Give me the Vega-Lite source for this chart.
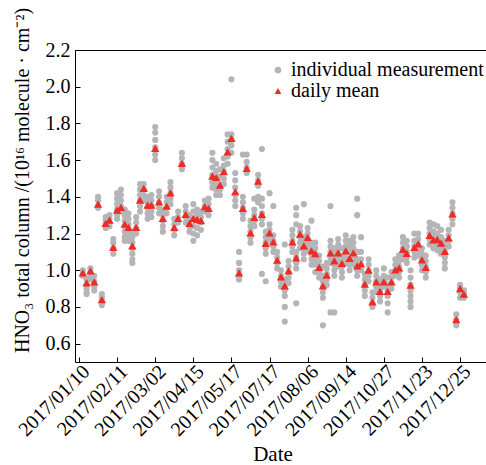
{
  "$schema": "https://vega.github.io/schema/vega-lite/v6.json",
  "width": 411,
  "height": 312,
  "autosize": {"type": "none"},
  "padding": {"left": 75, "top": 50, "right": 0, "bottom": 103},
  "background": "white",
  "config": {
    "view": {"stroke": null},
    "font": "Liberation Serif",
    "axis": {
      "grid": false,
      "domainColor": "black",
      "tickColor": "black",
      "labelColor": "black",
      "titleColor": "black",
      "labelFont": "Liberation Serif",
      "titleFont": "Liberation Serif",
      "titleFontWeight": "normal",
      "labelFontSize": 20,
      "titleFontSize": 20,
      "labelOverlap": false,
      "labelFlush": false
    },
    "legend": {"labelFont": "Liberation Serif", "labelFontSize": 20, "labelColor": "black", "labelLimit": 0}
  },
  "datasets": {
    "individual": [
      {"obs":1,"v":1.00},{"obs":1,"v":0.98},{"obs":1,"v":0.97},
      {"obs":2,"v":0.95},{"obs":2,"v":0.92},{"obs":2,"v":0.90},{"obs":2,"v":0.88},{"obs":2,"v":0.87},
      {"obs":3,"v":1.01},{"obs":3,"v":0.99},{"obs":3,"v":0.97},{"obs":3,"v":0.95},
      {"obs":4,"v":0.97},{"obs":4,"v":0.94},{"obs":4,"v":0.91},{"obs":4,"v":0.89},
      {"obs":5,"v":1.40},{"obs":5,"v":1.38},{"obs":5,"v":1.35},{"obs":5,"v":1.34},
      {"obs":6,"v":0.87},{"obs":6,"v":0.85},{"obs":6,"v":0.83},{"obs":6,"v":0.81},
      {"obs":7,"v":1.29},{"obs":7,"v":1.27},{"obs":7,"v":1.25},{"obs":7,"v":1.23},
      {"obs":8,"v":1.30},{"obs":8,"v":1.28},{"obs":8,"v":1.26},{"obs":8,"v":1.24},
      {"obs":9,"v":1.17},{"obs":9,"v":1.15},{"obs":9,"v":1.12},{"obs":9,"v":1.09},
      {"obs":10,"v":1.42},{"obs":10,"v":1.39},{"obs":10,"v":1.36},{"obs":10,"v":1.33},{"obs":10,"v":1.30},{"obs":10,"v":1.28},
      {"obs":11,"v":1.44},{"obs":11,"v":1.41},{"obs":11,"v":1.38},{"obs":11,"v":1.35},{"obs":11,"v":1.32},
      {"obs":12,"v":1.33},{"obs":12,"v":1.30},{"obs":12,"v":1.27},{"obs":12,"v":1.24},{"obs":12,"v":1.21},{"obs":12,"v":1.18},{"obs":12,"v":1.16},
      {"obs":13,"v":1.31},{"obs":13,"v":1.28},{"obs":13,"v":1.25},{"obs":13,"v":1.22},{"obs":13,"v":1.19},{"obs":13,"v":1.16},
      {"obs":14,"v":1.21},{"obs":14,"v":1.18},{"obs":14,"v":1.15},{"obs":14,"v":1.12},{"obs":14,"v":1.09},{"obs":14,"v":1.06},{"obs":14,"v":1.04},
      {"obs":15,"v":1.29},{"obs":15,"v":1.26},{"obs":15,"v":1.23},{"obs":15,"v":1.20},
      {"obs":16,"v":1.47},{"obs":16,"v":1.44},{"obs":16,"v":1.41},{"obs":16,"v":1.38},{"obs":16,"v":1.35},{"obs":16,"v":1.32},
      {"obs":17,"v":1.47},{"obs":17,"v":1.44},{"obs":17,"v":1.41},{"obs":17,"v":1.38},
      {"obs":18,"v":1.40},{"obs":18,"v":1.37},{"obs":18,"v":1.34},{"obs":18,"v":1.31},{"obs":18,"v":1.28},
      {"obs":19,"v":1.41},{"obs":19,"v":1.38},{"obs":19,"v":1.35},{"obs":19,"v":1.32},{"obs":19,"v":1.29},
      {"obs":20,"v":1.78},{"obs":20,"v":1.75},{"obs":20,"v":1.71},{"obs":20,"v":1.67},{"obs":20,"v":1.63},{"obs":20,"v":1.60},
      {"obs":21,"v":1.43},{"obs":21,"v":1.40},{"obs":21,"v":1.37},{"obs":21,"v":1.34},{"obs":21,"v":1.31},
      {"obs":22,"v":1.33},{"obs":22,"v":1.30},{"obs":22,"v":1.27},{"obs":22,"v":1.24},{"obs":22,"v":1.21},
      {"obs":23,"v":1.40},{"obs":23,"v":1.37},{"obs":23,"v":1.34},{"obs":23,"v":1.31},
      {"obs":24,"v":1.48},{"obs":24,"v":1.45},{"obs":24,"v":1.42},{"obs":24,"v":1.39},{"obs":24,"v":1.36},
      {"obs":25,"v":1.28},{"obs":25,"v":1.25},{"obs":25,"v":1.22},{"obs":25,"v":1.19},
      {"obs":26,"v":1.32},{"obs":26,"v":1.29},{"obs":26,"v":1.26},
      {"obs":27,"v":1.64},{"obs":27,"v":1.61},{"obs":27,"v":1.58},{"obs":27,"v":1.55},
      {"obs":28,"v":1.35},{"obs":28,"v":1.32},{"obs":28,"v":1.29},{"obs":28,"v":1.26},
      {"obs":29,"v":1.30},{"obs":29,"v":1.27},{"obs":29,"v":1.24},{"obs":29,"v":1.21},
      {"obs":30,"v":1.36},{"obs":30,"v":1.32},{"obs":30,"v":1.28},{"obs":30,"v":1.24},{"obs":30,"v":1.20},{"obs":30,"v":1.16},
      {"obs":31,"v":1.33},{"obs":31,"v":1.30},{"obs":31,"v":1.27},{"obs":31,"v":1.23},{"obs":31,"v":1.19},
      {"obs":32,"v":1.32},{"obs":32,"v":1.29},{"obs":32,"v":1.26},{"obs":32,"v":1.22},
      {"obs":33,"v":1.38},{"obs":33,"v":1.35},{"obs":33,"v":1.32},
      {"obs":34,"v":1.39},{"obs":34,"v":1.36},{"obs":34,"v":1.33},{"obs":34,"v":1.30},
      {"obs":35,"v":1.64},{"obs":35,"v":1.60},{"obs":35,"v":1.56},{"obs":35,"v":1.52},{"obs":35,"v":1.48},{"obs":35,"v":1.45},
      {"obs":36,"v":1.58},{"obs":36,"v":1.54},{"obs":36,"v":1.50},{"obs":36,"v":1.47},{"obs":36,"v":1.44},{"obs":36,"v":1.41},
      {"obs":37,"v":1.55},{"obs":37,"v":1.51},{"obs":37,"v":1.47},{"obs":37,"v":1.44},{"obs":37,"v":1.41},
      {"obs":38,"v":1.61},{"obs":38,"v":1.57},{"obs":38,"v":1.54},{"obs":38,"v":1.50},{"obs":38,"v":1.47},
      {"obs":39,"v":1.74},{"obs":39,"v":1.70},{"obs":39,"v":1.66},{"obs":39,"v":1.62},{"obs":39,"v":1.58},
      {"obs":40,"v":2.04},{"obs":40,"v":1.74},{"obs":40,"v":1.71},{"obs":40,"v":1.68},{"obs":40,"v":1.64},
      {"obs":41,"v":1.53},{"obs":41,"v":1.49},{"obs":41,"v":1.45},{"obs":41,"v":1.41},{"obs":41,"v":1.38},{"obs":41,"v":1.35},
      {"obs":42,"v":1.10},{"obs":42,"v":1.04},{"obs":42,"v":1.00},{"obs":42,"v":0.97},{"obs":42,"v":0.95},
      {"obs":43,"v":1.63},{"obs":43,"v":1.40},{"obs":43,"v":1.37},{"obs":43,"v":1.34},{"obs":43,"v":1.31},{"obs":43,"v":1.28},
      {"obs":44,"v":1.63},{"obs":44,"v":1.59},{"obs":44,"v":1.56},{"obs":44,"v":1.53},
      {"obs":45,"v":1.27},{"obs":45,"v":1.24},{"obs":45,"v":1.21},{"obs":45,"v":1.18},{"obs":45,"v":1.15},
      {"obs":46,"v":1.39},{"obs":46,"v":1.33},{"obs":46,"v":1.30},{"obs":46,"v":1.27},{"obs":46,"v":1.24},
      {"obs":47,"v":1.52},{"obs":47,"v":1.49},{"obs":47,"v":1.46},{"obs":47,"v":1.40},{"obs":47,"v":1.37},
      {"obs":48,"v":1.66},{"obs":48,"v":1.39},{"obs":48,"v":1.35},{"obs":48,"v":1.31},{"obs":48,"v":1.28},{"obs":48,"v":1.25},{"obs":48,"v":0.98},
      {"obs":49,"v":1.21},{"obs":49,"v":1.18},{"obs":49,"v":1.15},{"obs":49,"v":1.12},{"obs":49,"v":1.09},{"obs":49,"v":0.94},
      {"obs":50,"v":1.42},{"obs":50,"v":1.25},{"obs":50,"v":1.22},{"obs":50,"v":1.19},{"obs":50,"v":1.16},
      {"obs":51,"v":1.35},{"obs":51,"v":1.19},{"obs":51,"v":1.16},{"obs":51,"v":1.13},{"obs":51,"v":1.10},
      {"obs":52,"v":1.10},{"obs":52,"v":1.07},{"obs":52,"v":1.04},{"obs":52,"v":1.01},
      {"obs":53,"v":1.00},{"obs":53,"v":0.97},{"obs":53,"v":0.94},{"obs":53,"v":0.91},
      {"obs":54,"v":1.14},{"obs":54,"v":0.95},{"obs":54,"v":0.92},{"obs":54,"v":0.89},{"obs":54,"v":0.86},{"obs":54,"v":0.80},{"obs":54,"v":0.72},
      {"obs":55,"v":1.05},{"obs":55,"v":1.02},{"obs":55,"v":0.99},{"obs":55,"v":0.96},{"obs":55,"v":0.93},
      {"obs":56,"v":1.22},{"obs":56,"v":1.19},{"obs":56,"v":1.16},{"obs":56,"v":1.13},{"obs":56,"v":1.10},
      {"obs":57,"v":1.34},{"obs":57,"v":1.30},{"obs":57,"v":1.25},{"obs":57,"v":1.10},{"obs":57,"v":1.07},{"obs":57,"v":1.04},{"obs":57,"v":1.01},{"obs":57,"v":0.82},
      {"obs":58,"v":1.24},{"obs":58,"v":1.21},{"obs":58,"v":1.18},{"obs":58,"v":1.15},{"obs":58,"v":1.12},
      {"obs":59,"v":1.36},{"obs":59,"v":1.18},{"obs":59,"v":1.15},{"obs":59,"v":1.12},{"obs":59,"v":1.09},{"obs":59,"v":1.06},
      {"obs":60,"v":1.23},{"obs":60,"v":1.20},{"obs":60,"v":1.17},{"obs":60,"v":1.14},{"obs":60,"v":1.11},
      {"obs":61,"v":1.27},{"obs":61,"v":1.15},{"obs":61,"v":1.12},{"obs":61,"v":1.09},{"obs":61,"v":1.06},{"obs":61,"v":1.03},
      {"obs":62,"v":1.15},{"obs":62,"v":1.12},{"obs":62,"v":1.09},{"obs":62,"v":1.06},{"obs":62,"v":1.03},{"obs":62,"v":0.99},
      {"obs":63,"v":1.08},{"obs":63,"v":1.05},{"obs":63,"v":1.02},{"obs":63,"v":0.99},{"obs":63,"v":0.96},
      {"obs":64,"v":1.02},{"obs":64,"v":0.97},{"obs":64,"v":0.94},{"obs":64,"v":0.91},{"obs":64,"v":0.88},{"obs":64,"v":0.85},{"obs":64,"v":0.70},
      {"obs":65,"v":1.04},{"obs":65,"v":1.01},{"obs":65,"v":0.98},{"obs":65,"v":0.95},{"obs":65,"v":0.92},
      {"obs":66,"v":1.35},{"obs":66,"v":1.16},{"obs":66,"v":1.13},{"obs":66,"v":1.10},{"obs":66,"v":1.07},{"obs":66,"v":1.04},{"obs":66,"v":0.77},
      {"obs":67,"v":1.12},{"obs":67,"v":1.09},{"obs":67,"v":1.06},{"obs":67,"v":1.03},{"obs":67,"v":1.00},{"obs":67,"v":0.97},{"obs":67,"v":0.77},
      {"obs":68,"v":1.17},{"obs":68,"v":1.14},{"obs":68,"v":1.11},{"obs":68,"v":1.08},{"obs":68,"v":1.05},{"obs":68,"v":1.02},
      {"obs":69,"v":1.12},{"obs":69,"v":1.08},{"obs":69,"v":1.05},{"obs":69,"v":1.02},{"obs":69,"v":0.99},{"obs":69,"v":0.96},
      {"obs":70,"v":1.19},{"obs":70,"v":1.16},{"obs":70,"v":1.13},{"obs":70,"v":1.10},{"obs":70,"v":1.07},{"obs":70,"v":1.04},
      {"obs":71,"v":1.16},{"obs":71,"v":1.13},{"obs":71,"v":1.10},{"obs":71,"v":1.06},{"obs":71,"v":1.03},{"obs":71,"v":1.00},
      {"obs":72,"v":1.18},{"obs":72,"v":1.15},{"obs":72,"v":1.12},{"obs":72,"v":1.09},{"obs":72,"v":1.06},{"obs":72,"v":1.03},
      {"obs":73,"v":1.39},{"obs":73,"v":1.30},{"obs":73,"v":1.10},{"obs":73,"v":1.06},{"obs":73,"v":1.03},{"obs":73,"v":1.00},{"obs":73,"v":0.97},
      {"obs":74,"v":1.18},{"obs":74,"v":1.10},{"obs":74,"v":1.06},{"obs":74,"v":1.03},{"obs":74,"v":1.00},
      {"obs":75,"v":0.98},{"obs":75,"v":0.95},{"obs":75,"v":0.92},{"obs":75,"v":0.89},{"obs":75,"v":0.86},
      {"obs":76,"v":1.06},{"obs":76,"v":1.03},{"obs":76,"v":1.00},{"obs":76,"v":0.97},{"obs":76,"v":0.94},
      {"obs":77,"v":0.88},{"obs":77,"v":0.85},{"obs":77,"v":0.82},{"obs":77,"v":0.80},
      {"obs":78,"v":1.00},{"obs":78,"v":0.97},{"obs":78,"v":0.94},{"obs":78,"v":0.91},{"obs":78,"v":0.88},
      {"obs":79,"v":0.95},{"obs":79,"v":0.92},{"obs":79,"v":0.89},{"obs":79,"v":0.86},{"obs":79,"v":0.83},
      {"obs":80,"v":1.01},{"obs":80,"v":0.97},{"obs":80,"v":0.94},{"obs":80,"v":0.91},
      {"obs":81,"v":0.96},{"obs":81,"v":0.92},{"obs":81,"v":0.89},{"obs":81,"v":0.86},{"obs":81,"v":0.82},{"obs":81,"v":0.77},
      {"obs":82,"v":0.99},{"obs":82,"v":0.96},{"obs":82,"v":0.93},{"obs":82,"v":0.90},
      {"obs":83,"v":1.06},{"obs":83,"v":1.03},{"obs":83,"v":1.00},{"obs":83,"v":0.97},
      {"obs":84,"v":1.08},{"obs":84,"v":1.05},{"obs":84,"v":1.02},{"obs":84,"v":0.99},{"obs":84,"v":0.96},
      {"obs":85,"v":1.18},{"obs":85,"v":1.15},{"obs":85,"v":1.12},{"obs":85,"v":1.09},{"obs":85,"v":1.06},
      {"obs":86,"v":1.16},{"obs":86,"v":1.13},{"obs":86,"v":1.10},{"obs":86,"v":1.07},{"obs":86,"v":1.04},
      {"obs":87,"v":1.00},{"obs":87,"v":0.96},{"obs":87,"v":0.92},{"obs":87,"v":0.89},{"obs":87,"v":0.86},{"obs":87,"v":0.83},{"obs":87,"v":0.80},
      {"obs":88,"v":1.20},{"obs":88,"v":1.16},{"obs":88,"v":1.13},{"obs":88,"v":1.10},{"obs":88,"v":1.07},
      {"obs":89,"v":1.20},{"obs":89,"v":1.17},{"obs":89,"v":1.14},{"obs":89,"v":1.11},{"obs":89,"v":1.08},
      {"obs":90,"v":1.12},{"obs":90,"v":1.09},{"obs":90,"v":1.06},{"obs":90,"v":1.03},{"obs":90,"v":1.00},
      {"obs":91,"v":1.08},{"obs":91,"v":1.05},{"obs":91,"v":1.02},{"obs":91,"v":0.99},{"obs":91,"v":0.96},
      {"obs":92,"v":1.26},{"obs":92,"v":1.23},{"obs":92,"v":1.20},{"obs":92,"v":1.17},{"obs":92,"v":1.14},
      {"obs":93,"v":1.25},{"obs":93,"v":1.21},{"obs":93,"v":1.18},{"obs":93,"v":1.15},{"obs":93,"v":1.12},
      {"obs":94,"v":1.24},{"obs":94,"v":1.20},{"obs":94,"v":1.17},{"obs":94,"v":1.14},{"obs":94,"v":1.11},
      {"obs":95,"v":1.22},{"obs":95,"v":1.18},{"obs":95,"v":1.15},{"obs":95,"v":1.12},{"obs":95,"v":1.09},
      {"obs":96,"v":1.16},{"obs":96,"v":1.13},{"obs":96,"v":1.10},{"obs":96,"v":1.07},{"obs":96,"v":1.04},{"obs":96,"v":1.01},
      {"obs":97,"v":1.22},{"obs":97,"v":1.19},{"obs":97,"v":1.16},{"obs":97,"v":1.13},
      {"obs":98,"v":1.37},{"obs":98,"v":1.34},{"obs":98,"v":1.31},{"obs":98,"v":1.28},{"obs":98,"v":1.25},
      {"obs":99,"v":0.76},{"obs":99,"v":0.73},{"obs":99,"v":0.70},
      {"obs":100,"v":0.92},{"obs":100,"v":0.90},{"obs":100,"v":0.88},{"obs":100,"v":0.85},
      {"obs":101,"v":0.89},{"obs":101,"v":0.87},{"obs":101,"v":0.85}
    ],
    "daily": [
      {"obs":1,"v":0.986},{"obs":2,"v":0.931},{"obs":3,"v":0.997},{"obs":4,"v":0.937},{"obs":5,"v":1.36},
      {"obs":6,"v":0.84},{"obs":7,"v":1.255},{"obs":8,"v":1.273},{"obs":9,"v":1.124},{"obs":10,"v":1.328},
      {"obs":11,"v":1.342},{"obs":12,"v":1.251},{"obs":13,"v":1.233},{"obs":14,"v":1.133},{"obs":15,"v":1.233},
      {"obs":16,"v":1.382},{"obs":17,"v":1.446},{"obs":18,"v":1.355},{"obs":19,"v":1.355},{"obs":20,"v":1.664},
      {"obs":21,"v":1.373},{"obs":22,"v":1.282},{"obs":23,"v":1.349},{"obs":24,"v":1.422},{"obs":25,"v":1.233},
      {"obs":26,"v":1.282},{"obs":27,"v":1.582},{"obs":28,"v":1.304},{"obs":29,"v":1.255},{"obs":30,"v":1.282},
      {"obs":31,"v":1.277},{"obs":32,"v":1.27},{"obs":33,"v":1.346},{"obs":34,"v":1.337},{"obs":35,"v":1.513},
      {"obs":36,"v":1.506},{"obs":37,"v":1.464},{"obs":38,"v":1.537},{"obs":39,"v":1.645},{"obs":40,"v":1.718},
      {"obs":41,"v":1.428},{"obs":42,"v":0.986},{"obs":43,"v":1.337},{"obs":44,"v":1.555},{"obs":45,"v":1.204},
      {"obs":46,"v":1.288},{"obs":47,"v":1.486},{"obs":48,"v":1.304},{"obs":49,"v":1.146},{"obs":50,"v":1.204},
      {"obs":51,"v":1.155},{"obs":52,"v":1.055},{"obs":53,"v":0.964},{"obs":54,"v":0.915},{"obs":55,"v":0.997},
      {"obs":56,"v":1.155},{"obs":57,"v":1.068},{"obs":58,"v":1.197},{"obs":59,"v":1.133},{"obs":60,"v":1.179},
      {"obs":61,"v":1.106},{"obs":62,"v":1.091},{"obs":63,"v":1.015},{"obs":64,"v":0.915},{"obs":65,"v":0.973},
      {"obs":66,"v":1.095},{"obs":67,"v":1.051},{"obs":68,"v":1.095},{"obs":69,"v":1.037},{"obs":70,"v":1.106},
      {"obs":71,"v":1.064},{"obs":72,"v":1.095},{"obs":73,"v":1.024},{"obs":74,"v":1.035},{"obs":75,"v":0.924},
      {"obs":76,"v":1.0},{"obs":77,"v":0.828},{"obs":78,"v":0.937},{"obs":79,"v":0.885},{"obs":80,"v":0.937},
      {"obs":81,"v":0.885},{"obs":82,"v":0.937},{"obs":83,"v":1.002},{"obs":84,"v":1.013},{"obs":85,"v":1.114},
      {"obs":86,"v":1.092},{"obs":87,"v":0.919},{"obs":88,"v":1.125},{"obs":89,"v":1.144},{"obs":90,"v":1.057},
      {"obs":91,"v":1.016},{"obs":92,"v":1.19},{"obs":93,"v":1.166},{"obs":94,"v":1.168},{"obs":95,"v":1.148},
      {"obs":96,"v":1.103},{"obs":97,"v":1.176},{"obs":98,"v":1.307},{"obs":99,"v":0.731},{"obs":100,"v":0.9},
      {"obs":101,"v":0.87}
    ]
  },
  "resolve": {"axis": {"x": "independent"}},
  "layer": [
    {
      "data": {"name": "individual"},
      "mark": {"type": "point", "filled": true, "size": 38, "opacity": 1},
      "encoding": {
        "x": {
          "field": "obs", "type": "quantitative",
          "scale": {"domain": [-1.05, 106.8], "nice": false, "zero": false},
          "axis": {
            "values": [0, 10, 20, 30, 40, 50, 60, 70, 80, 90, 100],
            "tickCount": 20,
            "labelExpr": "['2017/01/10','2017/02/11','2017/03/02','2017/04/15','2017/05/17','2017/07/17','2017/08/06','2017/09/14','2017/10/27','2017/11/23','2017/12/25'][round(datum.value / 10)]",
            "labelAngle": -45,
            "labelAlign": "right",
            "labelBaseline": "top",
            "labelPadding": 4,
            "tickSize": -5,
            "title": "Date",
            "titleFontSize": 21,
            "titleBaseline": "alphabetic",
            "titleX": 197.5,
            "titleY": 98.5
          }
        },
        "y": {
          "field": "v", "type": "quantitative",
          "scale": {"domain": [0.5, 2.2], "nice": false, "zero": false},
          "axis": {
            "values": [0.6, 0.8, 1.0, 1.2, 1.4, 1.6, 1.8, 2.0, 2.2],
            "tickCount": 20,
            "labelOverlap": false,
            "format": ".1f",
            "tickSize": -5,
            "labelPadding": 10,
            "title": "HNO₃ total column /(10¹⁶ molecule · cm⁻²)",
            "titleBaseline": "alphabetic",
            "titleX": -46.5,
            "titleY": 130
          }
        },
        "color": {
          "datum": "individual measurement", "type": "nominal",
          "scale": {"domain": ["individual measurement", "daily mean"], "range": ["#b5b5b7", "#ee2b24"]},
          "legend": {
            "title": null, "orient": "none", "legendX": 193, "legendY": 10, "padding": 0,
            "symbolSize": 45, "rowPadding": 1, "labelOffset": 3
          }
        },
        "shape": {
          "datum": "individual measurement", "type": "nominal",
          "scale": {"domain": ["individual measurement", "daily mean"], "range": ["circle", "triangle-up"]}
        }
      }
    },
    {
      "data": {"name": "daily"},
      "mark": {"type": "point", "filled": true, "size": 70, "opacity": 1},
      "encoding": {
        "x": {
          "field": "obs", "type": "quantitative",
          "axis": {"orient": "top", "labels": false, "ticks": false, "title": null}
        },
        "y": {"field": "v", "type": "quantitative"},
        "color": {"datum": "daily mean", "type": "nominal"},
        "shape": {"datum": "daily mean", "type": "nominal"}
      }
    }
  ]
}
